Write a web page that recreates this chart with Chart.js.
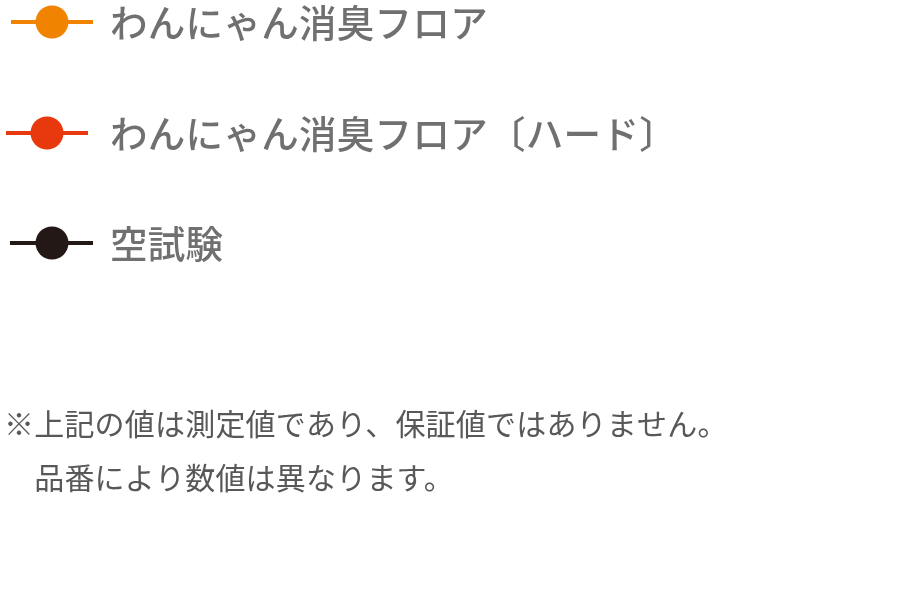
<!DOCTYPE html>
<html lang="ja">
<head>
<meta charset="utf-8">
<title>消臭試験 凡例</title>
<script src="https://cdn.jsdelivr.net/npm/chart.js@4.4.1/dist/chart.umd.min.js"></script>
<style>
  html, body { margin: 0; padding: 0; background: #fff; }
  #wrap { width: 900px; height: 600px; position: relative; }
</style>
</head>
<body>
<div id="wrap"><canvas id="legendChart" width="900" height="600"></canvas></div>
<script>
// series shown in the legend (no plotted points in this picture)
const seriesNames = ['わんにゃん消臭フロア', 'わんにゃん消臭フロア〔ハード〕', '空試験'];
const seriesColors = ['#F08300', '#E8380D', '#231815'];
const categories = [];
const seriesValues = [[], [], []];
const noteLines = ['※上記の値は測定値であり、保証値ではありません。', '　品番により数値は異なります。'];

// legend marker: a short line with a dot on it
const legendPlugin = {
  id: 'lineDotLegend',
  afterDraw(chart, args, opts) {
    const ctx = chart.ctx;
    ctx.save();
    chart.data.datasets.forEach((ds, i) => {
      const m = opts.markers[i];
      ctx.strokeStyle = ds.borderColor;
      ctx.lineWidth = 4;
      ctx.beginPath();
      ctx.moveTo(m.x0, m.y);
      ctx.lineTo(m.x1, m.y);
      ctx.stroke();
      ctx.fillStyle = ds.borderColor;
      ctx.beginPath();
      ctx.arc(m.cx, m.y, 16.5, 0, Math.PI * 2);
      ctx.fill();

      ctx.fillStyle = '#717071';
      ctx.font = '500 37.5px "Noto Sans CJK JP", "Noto Sans", sans-serif';
      ctx.letterSpacing = '0.3px';
      ctx.textBaseline = 'middle';
      ctx.fillText(ds.label, 110, m.y + 1);
    });

    ctx.fillStyle = '#595757';
    ctx.font = '400 30px "Noto Sans CJK JP", "Noto Sans", sans-serif';
    ctx.letterSpacing = '0.2px';
    ctx.textBaseline = 'middle';
    noteLines.forEach((line, i) => {
      ctx.fillText(line, 4, 424 + i * 54);
    });
    ctx.restore();
  }
};

new Chart(document.getElementById('legendChart'), {
  type: 'line',
  data: {
    labels: categories,
    datasets: seriesNames.map((name, i) => ({
      label: name,
      data: seriesValues[i],
      borderColor: seriesColors[i],
      backgroundColor: seriesColors[i],
      pointRadius: 6
    }))
  },
  options: {
    responsive: false,
    animation: false,
    layout: { padding: 0 },
    scales: { x: { display: false }, y: { display: false } },
    plugins: {
      legend: { display: false },
      tooltip: { enabled: false },
      lineDotLegend: {
        markers: [
          { x0: 11, x1: 93, cx: 52, y: 22 },
          { x0: 6, x1: 88, cx: 47, y: 133 },
          { x0: 10, x1: 93, cx: 52, y: 243 }
        ]
      }
    }
  },
  plugins: [legendPlugin]
});
</script>
</body>
</html>
